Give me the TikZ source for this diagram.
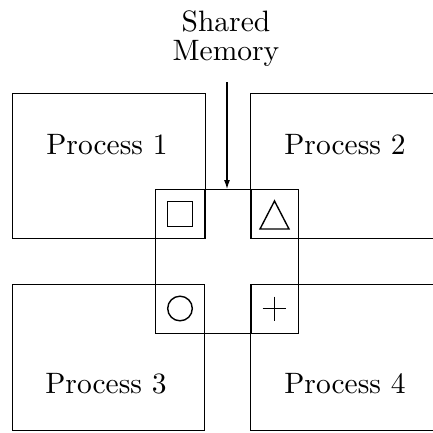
\documentclass[tikz,border=0pt]{standalone}
\usepackage{fontspec}
\newfontfamily\tenrm{lmroman10-regular.otf}
\usetikzlibrary{arrows.meta}
\begin{document}
\begin{tikzpicture}[x=1pt,y=-1pt,
  line width=1.4pt,
  box/.style={draw,rectangle,inner sep=0pt,anchor=north west},
  lbl/.style={font=\tenrm\fontsize{29.5}{30}\selectfont,inner sep=0pt,anchor=base},
  sym/.style={line width=1.4pt}]
\useasboundingbox (0,0) rectangle (433,432);
\clip (0,0) rectangle (433,432);
% process boxes
\node[box,minimum width=193pt,minimum height=145pt] (p1) at (12,93) {};
\node[box,minimum width=193pt,minimum height=145pt] (p2) at (250,93) {};
\node[box,minimum width=192pt,minimum height=146pt] (p3) at (12,284) {};
\node[box,minimum width=193pt,minimum height=146pt] (p4) at (250,284) {};
% shared memory
\node[box,minimum width=143pt,minimum height=144pt] (mem) at (155,189) {};
\node[box,minimum width=49pt,minimum height=49pt] (c1) at (155,189) {};
\node[box,minimum width=47pt,minimum height=49pt] (c2) at (251,189) {};
\node[box,minimum width=49pt,minimum height=49pt] (c3) at (155,284) {};
\node[box,minimum width=47pt,minimum height=49pt] (c4) at (251,284) {};
% symbols
\draw[sym] (167.5,201.5) rectangle (192.5,226.5);
\draw[sym] (260,229) -- (289,229) -- (274.5,201) -- cycle;
\draw[sym] (180,308.5) circle (12.3);
\draw[sym] (262.5,308.5) -- (286,308.5) (274.3,296.5) -- (274.3,320.5);
% labels
\node[lbl] (t1) at (107,154) {Process 1};
\node[lbl] (t2) at (345,154) {Process 2};
\node[lbl] (t3) at (106,393) {Process 3};
\node[lbl] (t4) at (345,393) {Process 4};
\node[lbl] (sh) at (226,31.5) {Shared};
\node[lbl] (me) at (226,60) {Memory};
\coordinate (as) at (227,82);
\draw[-{Latex[length=9pt,width=6pt]},line width=1.1pt] (as) -- (as |- mem.north);
\end{tikzpicture}
\end{document}
